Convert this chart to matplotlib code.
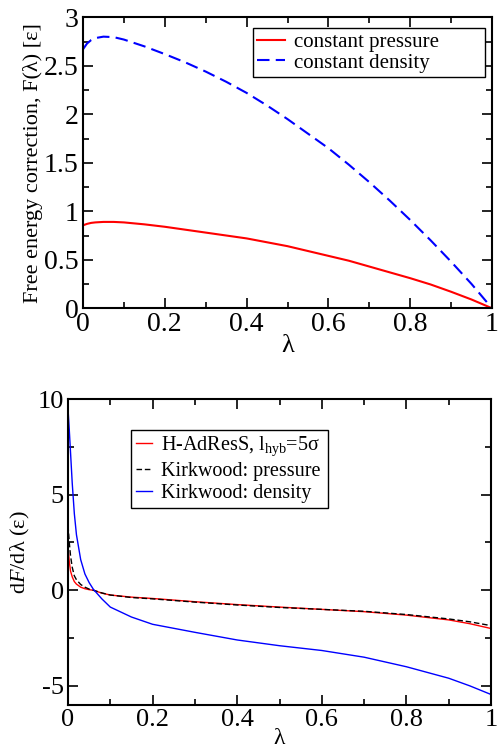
import numpy as np
import matplotlib
matplotlib.use("Agg")
import matplotlib.pyplot as plt
from matplotlib.ticker import MultipleLocator

plt.rcParams['font.family'] = ['Liberation Serif', 'DejaVu Serif']
plt.rcParams['mathtext.fontset'] = 'custom'
plt.rcParams['mathtext.rm'] = 'Liberation Serif'
plt.rcParams['mathtext.it'] = 'Liberation Serif:italic'

# top panel: free energy correction
lam_top = [0, 0.01, 0.02, 0.03, 0.05, 0.075, 0.1, 0.15, 0.2, 0.25, 0.3, 0.35, 0.4,
           0.45, 0.5, 0.55, 0.6, 0.65, 0.7, 0.75, 0.8, 0.85, 0.9, 0.95, 1.0]
f_pressure = [0.855, 0.87, 0.88, 0.885, 0.89, 0.89, 0.885, 0.865, 0.84, 0.81, 0.78, 0.75, 0.72,
              0.68, 0.64, 0.59, 0.54, 0.49, 0.43, 0.37, 0.31, 0.245, 0.17, 0.09, 0.0]
f_density = [2.67, 2.73, 2.765, 2.785, 2.80, 2.795, 2.77, 2.70, 2.62, 2.535, 2.44, 2.335, 2.22,
             2.09, 1.95, 1.80, 1.65, 1.48, 1.30, 1.11, 0.91, 0.70, 0.48, 0.25, 0.0]

# bottom panel: dF/dlambda
lam_bot = [0, 0.003, 0.006, 0.01, 0.015, 0.02, 0.03, 0.04, 0.05, 0.06, 0.08, 0.1,
           0.15, 0.2, 0.3, 0.4, 0.5, 0.6, 0.7, 0.8, 0.9, 0.95, 1.0]
hadress = [2.3, 1.5, 1.0, 0.7, 0.45, 0.32, 0.16, 0.08, 0.03, 0.0, -0.15, -0.25,
           -0.36, -0.43, -0.6, -0.75, -0.88, -1.0, -1.12, -1.3, -1.55, -1.75, -2.0]
kirk_p = [3.4, 2.5, 1.8, 1.2, 0.75, 0.55, 0.3, 0.16, 0.06, 0.0, -0.14, -0.25,
          -0.38, -0.45, -0.62, -0.77, -0.9, -1.0, -1.1, -1.27, -1.5, -1.65, -1.85]
kirk_d = [9.5, 8.4, 7.2, 5.6, 4.0, 2.9, 1.6, 0.85, 0.4, 0.05, -0.45, -0.88,
          -1.4, -1.78, -2.2, -2.6, -2.9, -3.15, -3.5, -4.0, -4.6, -5.0, -5.45]

x_ticks = [0, 0.2, 0.4, 0.6, 0.8, 1.0]
x_labels = ['0', '0.2', '0.4', '0.6', '0.8', '1']


def style_axes(ax, xmin, ymin, labelsize):
    ax.xaxis.set_minor_locator(MultipleLocator(xmin))
    ax.yaxis.set_minor_locator(MultipleLocator(ymin))
    ax.tick_params(which='both', direction='in', top=True, right=True, width=1.2)
    ax.tick_params(which='major', length=7, labelsize=labelsize, pad=3)
    ax.tick_params(which='minor', length=4)
    for s in ax.spines.values():
        s.set_linewidth(1.5)


fig = plt.figure(figsize=(5, 7.5), dpi=100)

ax1 = fig.add_axes([0.166, 0.589, 0.818, 0.388])
ax1.plot(lam_top, f_pressure, color='red', lw=1.5, label='constant pressure')
ax1.plot(lam_top, f_density, color='blue', lw=1.5, dashes=(6, 3), label='constant density')
ax1.set_xlim(0, 1)
ax1.set_ylim(0, 3)
ax1.set_xticks(x_ticks)
ax1.set_xticklabels(x_labels)
ax1.set_yticks([0, 0.5, 1, 1.5, 2, 2.5, 3])
ax1.set_yticklabels(['0', '0.5', '1', '1.5', '2', '2.5', '3'])
style_axes(ax1, 0.1, 0.25, 20)
ax1.set_xlabel('λ', fontsize=19, labelpad=-2)
ax1.set_ylabel('Free energy correction, F(λ) [ε]', fontsize=16, labelpad=1)
leg1 = ax1.legend(loc='upper left', bbox_to_anchor=(0.416, 0.962, 0.567, 0.0), mode='expand',
                  fontsize=15, fancybox=False, framealpha=1, edgecolor='black',
                  handlelength=1.35, borderpad=0.2, labelspacing=0.05, handletextpad=0.4,
                  borderaxespad=0)
leg1.get_frame().set_linewidth(1.0)

ax2 = fig.add_axes([0.136, 0.06, 0.846, 0.408])
ax2.plot(lam_bot, hadress, color='red', lw=1.0, label=r'H-AdResS, l$_{\rm hyb}$=5σ')
ax2.plot(lam_bot, kirk_p, color='black', lw=1.0, dashes=(4, 2), label='Kirkwood: pressure')
ax2.plot(lam_bot, kirk_d, color='blue', lw=1.0, label='Kirkwood: density')
ax2.set_xlim(0, 1)
ax2.set_ylim(-6, 10)
ax2.set_xticks(x_ticks)
ax2.set_xticklabels(x_labels)
ax2.set_yticks([-5, 0, 5, 10])
ax2.set_yticklabels(['-5', '0', '5', '10'])
style_axes(ax2, 0.1, 2.5, 19)
ax2.set_xlabel('λ', fontsize=17, labelpad=-2)
ax2.set_ylabel(r'd$F$/dλ (ε)', fontsize=16, labelpad=4)
leg2 = ax2.legend(loc='upper left', bbox_to_anchor=(0.149, 0.899, 0.466, 0.0), mode='expand',
                  fontsize=14.5, fancybox=False, framealpha=1, edgecolor='black',
                  handlelength=0.8, borderpad=0.25, labelspacing=0.15, handletextpad=0.45,
                  borderaxespad=0)
leg2.get_frame().set_linewidth(1.0)

fig.savefig('out.png', dpi=100)
